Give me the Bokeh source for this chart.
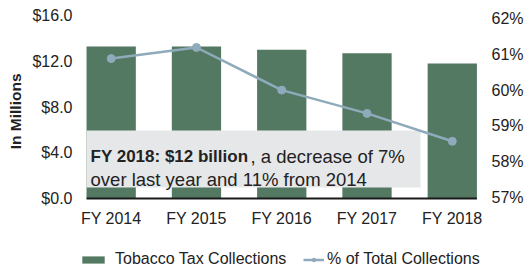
from bokeh.plotting import figure
from bokeh.models import (Range1d, LinearAxis, FixedTicker, Label, Legend,
                          LegendItem, Title)
from bokeh.core.properties import value
from bokeh.embed import file_html
from bokeh.resources import INLINE

years = ["FY 2014", "FY 2015", "FY 2016", "FY 2017", "FY 2018"]
collections = [13.3, 13.3, 13.0, 12.7, 11.8]
pct_total = [60.88, 61.19, 60.0, 59.35, 58.57]
left_ticks = [0, 4, 8, 12, 16]
left_tick_labels = ["$0.0", "$4.0", "$8.0", "$12.0", "$16.0"]
right_ticks = [57, 58, 59, 60, 61, 62]
right_tick_labels = ["57%", "58%", "59%", "60%", "61%", "62%"]
series_names = ["Tobacco Tax Collections", "% of Total Collections"]

FONT = "'Liberation Sans', Arial, sans-serif"
BAR = "#537962"
LINE = "#8eaabb"
BOX = "#e6e7e8"
TXT = "#222222"
BAR_W = 0.578

xs = list(range(len(years)))

# plot frame spans the full height so that category labels and legend sit inside it
p = figure(width=526, height=269, output_backend="svg", toolbar_location=None,
           x_axis_location=None,
           x_range=Range1d(-0.3716, 4.413), y_range=Range1d(-6.206, 16),
           min_border_left=79, min_border_right=38, min_border_top=15,
           min_border_bottom=0, outline_line_color=None)
p.xgrid.visible = False
p.ygrid.visible = False
p.extra_y_ranges = {"pct": Range1d(54.989, 62.084)}

bars = p.vbar(x=xs, top=collections, width=BAR_W, fill_color=BAR, line_color=None)

# annotation box (drawn above bars, below line)
p.quad(left=[-0.289], right=[3.628], bottom=[0.96], top=[5.94],
       fill_color=BOX, line_color=None)

# category baseline and labels
p.segment(x0=[xs[0] - BAR_W / 2], x1=[xs[-1] + BAR_W / 2], y0=[0], y1=[0],
          line_color="#1a1a1a", line_width=2)
p.text(x=xs, y=[-1.75] * len(xs), text=years, text_align="center",
       text_baseline="middle", text_font=value(FONT), text_font_size="16px",
       text_color=TXT)

ln = p.line(x=xs, y=pct_total, y_range_name="pct", line_color=LINE, line_width=2.5)
pts = p.scatter(x=xs, y=pct_total, y_range_name="pct", size=8,
                fill_color=LINE, line_color=LINE)

ya = p.yaxis[0]
ya.ticker = FixedTicker(ticks=left_ticks)
ya.major_label_overrides = {t: l for t, l in zip(left_ticks, left_tick_labels)}
ya.axis_line_color = None
ya.major_tick_line_color = None
ya.minor_tick_line_color = None
ya.major_tick_out = 0
ya.major_tick_in = 0
ya.major_label_standoff = 7
ya.major_label_text_font = FONT
ya.major_label_text_font_size = "16px"
ya.major_label_text_color = TXT

p.add_layout(Title(text="In Millions", align="right", offset=58,
                   vertical_align="middle", standoff=9, text_font=FONT,
                   text_font_style="bold", text_font_size="15.5px",
                   text_color=TXT), "left")

ra = LinearAxis(y_range_name="pct", ticker=FixedTicker(ticks=right_ticks))
ra.major_label_overrides = {t: l for t, l in zip(right_ticks, right_tick_labels)}
ra.axis_line_color = None
ra.major_tick_line_color = None
ra.minor_tick_line_color = None
ra.major_tick_out = 0
ra.major_tick_in = 0
ra.major_label_standoff = 4
ra.major_label_text_font = FONT
ra.major_label_text_font_size = "16px"
ra.major_label_text_color = TXT
p.add_layout(ra, "right")

# annotation text
p.add_layout(Label(x=-0.242, y=3.67, text="FY 2018: $12 billion", text_font=FONT,
                   text_font_style="bold", text_font_size="17px", text_color=TXT,
                   text_baseline="alphabetic"))
p.add_layout(Label(x=1.634, y=3.67, text=", a decrease of 7%", text_font=FONT,
                   text_font_size="18.5px", text_color=TXT, text_baseline="alphabetic"))
p.add_layout(Label(x=-0.242, y=1.66, text="over last year and 11% from 2014",
                   text_font=FONT, text_font_size="18.5px", text_color=TXT,
                   text_baseline="alphabetic"))

def mk_legend(items, x, gw, standoff):
    lg = Legend(items=items, location=(x, 1), orientation="horizontal",
                padding=0, margin=0, border_line_color=None,
                background_fill_alpha=0, glyph_width=gw, glyph_height=9,
                label_standoff=standoff, label_text_font=FONT,
                label_text_font_size="16px", label_text_color=TXT, label_height=16)
    p.add_layout(lg, "center")

mk_legend([LegendItem(label=series_names[0], renderers=[bars])], 0, 28, 8)
mk_legend([LegendItem(label=series_names[1], renderers=[ln, pts])], 224, 21, 3)

open("out.html", "w").write(file_html(p, INLINE))
